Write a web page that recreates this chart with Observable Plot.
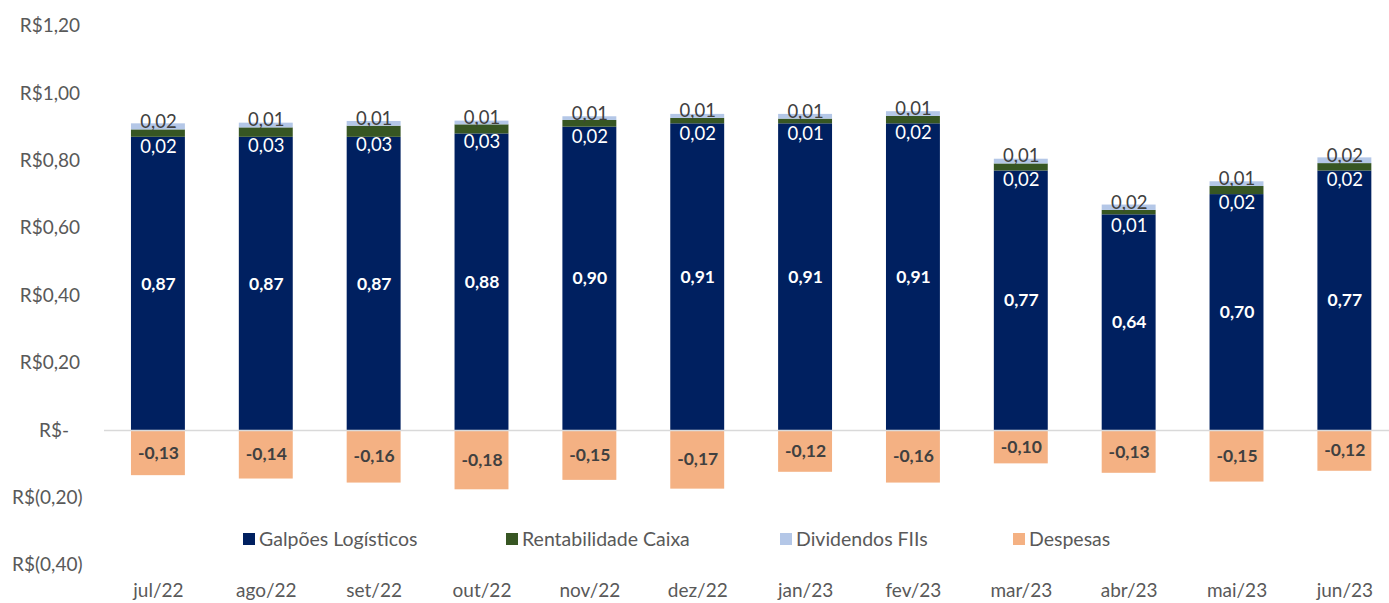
<!DOCTYPE html>
<html>
<head>
<meta charset="utf-8">
<script src="https://cdn.jsdelivr.net/npm/d3@7"></script>
<script src="https://cdn.jsdelivr.net/npm/@observablehq/plot@0.6"></script>
<style>
  html, body { margin: 0; padding: 0; background: #fff; overflow: hidden; }
  #wrap { position: relative; width: 1389px; height: 603px; font-family: Lato, "Noto Sans", sans-serif; }
  .lg { position: absolute; top: 528px; font-size: 19.5px; color: #595959; white-space: nowrap; line-height: 22px; }
  .lg .sq { position: absolute; left: 0; top: 5px; width: 12px; height: 12px; }
  .lg .tx { position: absolute; left: 16px; top: 0; }
</style>
</head>
<body>
<div id="wrap"></div>
<script>
const months = ["jul/22","ago/22","set/22","out/22","nov/22","dez/22","jan/23","fev/23","mar/23","abr/23","mai/23","jun/23"];
const series = ["Galpões Logísticos","Rentabilidade Caixa","Dividendos FIIs","Despesas"];
const colors = ["#002060","#375623","#B4C7E7","#F4B183"];
const galpoes = [0.87,0.87,0.87,0.88,0.90,0.91,0.91,0.91,0.77,0.64,0.70,0.77];
const rentabilidade = [0.022,0.028,0.033,0.027,0.020,0.016,0.014,0.022,0.021,0.013,0.024,0.022];
const dividendos = [0.018,0.014,0.014,0.011,0.011,0.012,0.014,0.014,0.014,0.016,0.014,0.017];
const despesas = [-0.134,-0.144,-0.156,-0.176,-0.148,-0.174,-0.124,-0.156,-0.099,-0.127,-0.153,-0.121];
const yTicks = [-0.4,-0.2,0,0.2,0.4,0.6,0.8,1.0,1.2];

const cols = [galpoes, rentabilidade, dividendos, despesas];
const rows = [];
months.forEach((m, i) => {
  series.forEach((s, j) => rows.push({month: m, serie: s, value: cols[j][i]}));
});

const fmt = v => v.toFixed(2).replace(".", ",");
const yFmt = v => {
  if (Math.abs(v) < 1e-9) return "R$-\u2007\u2009";
  if (v < 0) return "R$(" + fmt(-v) + ")";
  return "R$" + fmt(v) + "\u2009";
};
const labelFor = name => d => d.serie === name ? fmt(d.value) : "";

const stackOpts = extra => Plot.stackY({x: "month", y: "value", ...extra});

const chart = Plot.plot({
  width: 1389,
  height: 603,
  marginLeft: 104,
  marginRight: -9.3,
  marginTop: 25.6,
  marginBottom: 38.2,
  style: {fontFamily: "Lato, 'Noto Sans', sans-serif", fontSize: "19px", color: "#595959", background: "#fff"},
  x: {domain: months, paddingInner: 0.5, paddingOuter: 0.25, round: false, axis: null},
  y: {domain: [-0.4, 1.2], axis: null},
  color: {domain: series, range: colors},
  marks: [
    Plot.barY(rows, stackOpts({fill: "serie"})),
    Plot.ruleY([0], {stroke: "#D9D9D9", strokeWidth: 1.5}),
    Plot.axisY({ticks: yTicks, tickSize: 0, tickPadding: 22, tickFormat: yFmt, fontSize: 19, fill: "#595959", label: null}),
    Plot.axisX({tickSize: 0, tickPadding: 18.5, fontSize: 19, fill: "#595959", label: null}),
    Plot.text(rows, stackOpts({text: labelFor("Galpões Logísticos"), fill: "white", fontWeight: "bold", fontSize: 17.5})),
    Plot.text(rows, stackOpts({text: labelFor("Rentabilidade Caixa"), fill: "white", fontSize: 18.5, dy: 13})),
    Plot.text(rows, stackOpts({text: labelFor("Dividendos FIIs"), fill: "#404040", fontSize: 18.5, dy: -5})),
    Plot.text(rows, stackOpts({text: labelFor("Despesas"), fill: "#404040", fontWeight: "bold", fontSize: 17.5}))
  ]
});

const wrap = document.getElementById("wrap");
wrap.appendChild(chart);

const legendLeft = [243, 506, 780, 1013];
series.forEach((s, i) => {
  const item = document.createElement("div");
  item.className = "lg";
  item.style.left = legendLeft[i] + "px";
  const sq = document.createElement("span");
  sq.className = "sq";
  sq.style.background = colors[i];
  const tx = document.createElement("span");
  tx.className = "tx";
  tx.textContent = s;
  item.appendChild(sq);
  item.appendChild(tx);
  wrap.appendChild(item);
});
</script>
</body>
</html>
